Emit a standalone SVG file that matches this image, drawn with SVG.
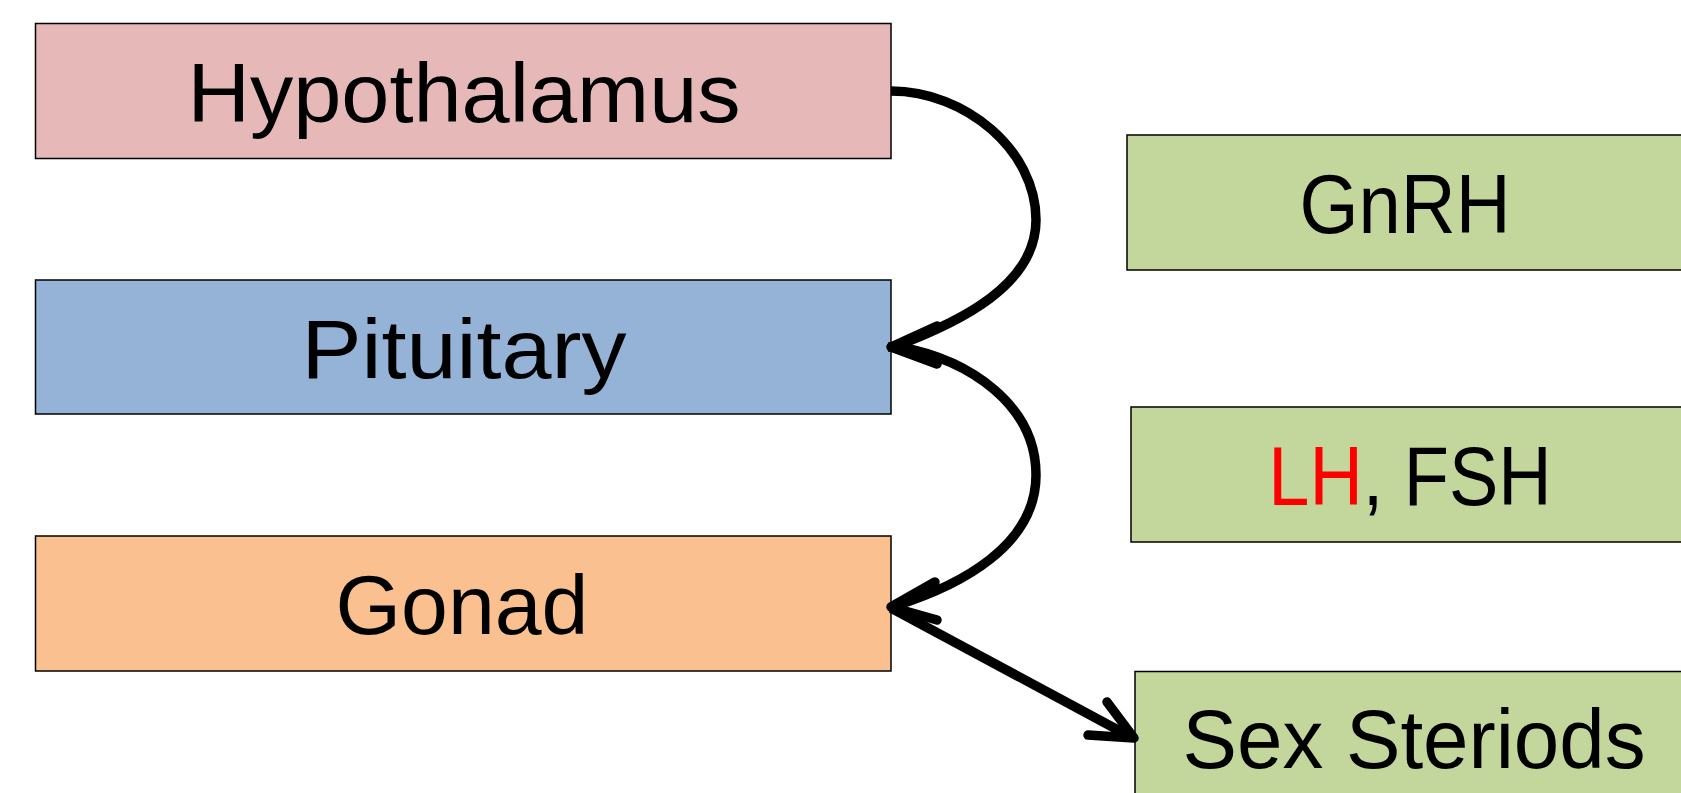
<svg xmlns="http://www.w3.org/2000/svg" width="1681" height="793" viewBox="0 0 1681 793">
<style>
.box{stroke:#000;stroke-width:1.5}
.lbl{font-family:"Liberation Sans",Arial,sans-serif;font-size:84px;fill:#000;text-anchor:middle}
.con{fill:none;stroke:#000;stroke-width:9.5;stroke-linecap:butt}
.head{fill:none;stroke:#000;stroke-width:9.5;stroke-linecap:round;stroke-linejoin:round}
</style>
<rect width="1681" height="793" fill="#fff"/>
<g id="hypothalamus">
<rect class="box" x="35.5" y="23.5" width="855.5" height="135" fill="#E6B9B8"/>
<text class="lbl" x="464" y="121.5" textLength="553" lengthAdjust="spacingAndGlyphs">Hypothalamus</text>
</g>
<g id="pituitary">
<rect class="box" x="35.5" y="280" width="855.5" height="134" fill="#95B3D7"/>
<text class="lbl" x="464" y="377.5" textLength="325" lengthAdjust="spacingAndGlyphs">Pituitary</text>
</g>
<g id="gonad">
<rect class="box" x="35.5" y="536" width="855.5" height="135" fill="#FAC090"/>
<text class="lbl" x="462" y="634" textLength="253" lengthAdjust="spacingAndGlyphs">Gonad</text>
</g>
<g id="gnrh">
<rect class="box" x="1127" y="135" width="560" height="135" fill="#C3D69B"/>
<text class="lbl" x="1405" y="233" textLength="211" lengthAdjust="spacingAndGlyphs">GnRH</text>
</g>
<g id="lhfsh">
<rect class="box" x="1131" y="407" width="560" height="135" fill="#C3D69B"/>
<text class="lbl" transform="translate(1410,505) scale(0.88,1)" x="0" y="0"><tspan style="fill:#FF0000">LH</tspan>, FSH</text>
</g>
<g id="sexsteroids">
<rect class="box" x="1135" y="671.5" width="560" height="135" fill="#C3D69B"/>
<text class="lbl" x="1414" y="768" textLength="463" lengthAdjust="spacingAndGlyphs">Sex Steriods</text>
</g>
<g id="connectors">
<path class="con" d="M891,91 C965,91 1036,150 1036,220 C1036,285 960,322 896,346"/>
<path class="head" d="M937,326 L891,347 L937,364"/>
<path class="con" d="M888,347 L900,347 C970,360 1036,405 1036,475 C1036,545 962,585 895,606"/>
<path class="head" d="M935,582 L891,607 L937,620"/>
<path class="con" d="M891,608 L1131,737"/>
<path class="head" d="M1107,702 L1134,738 L1088,735"/>
</g>
</svg>
